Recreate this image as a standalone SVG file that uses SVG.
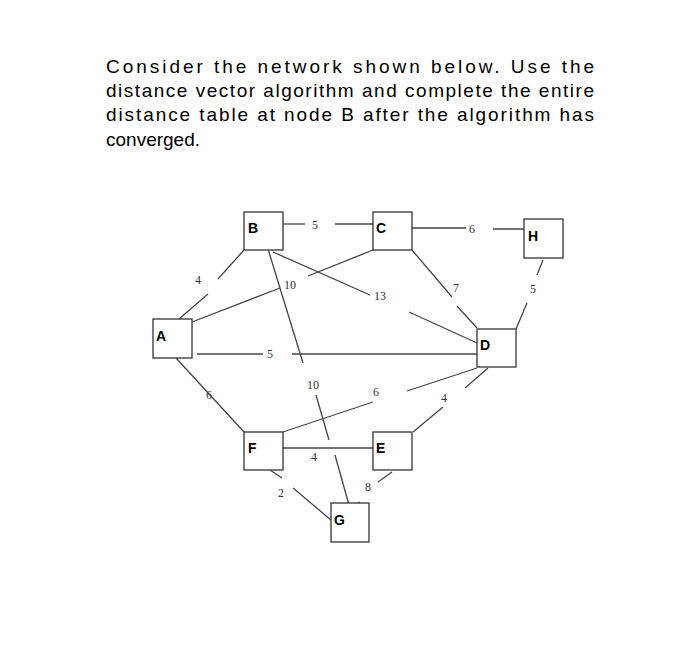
<svg xmlns="http://www.w3.org/2000/svg" width="700" height="653" viewBox="0 0 700 653">
<style>
.q{font-family:"Liberation Sans",Arial,sans-serif;font-size:19px;fill:#000}
.n rect{fill:#fff;stroke:#333;stroke-width:1.3}
.n text{font-family:"Liberation Sans",Arial,sans-serif;font-weight:bold;font-size:14px;fill:#000}
.c line{stroke:#444;stroke-width:1.3}
.w{font-family:"Liberation Serif","Times New Roman",serif;font-size:12px;fill:#333}
</style>
<rect width="700" height="653" fill="#fff"/>
<text class="q" x="106" y="73" textLength="488" lengthAdjust="spacing">Consider the network shown below. Use the</text>
<text class="q" x="106" y="97" textLength="488" lengthAdjust="spacing">distance vector algorithm and complete the entire</text>
<text class="q" x="106" y="121" textLength="488" lengthAdjust="spacing">distance table at node B after the algorithm has</text>
<text class="q" x="106" y="146">converged.</text>
<g class="c">
<line x1="283" y1="224" x2="305" y2="224"/><line x1="335" y1="224" x2="373" y2="224"/>
<line x1="412" y1="228" x2="466" y2="228"/><line x1="493" y1="229" x2="527" y2="229"/>
<line x1="244" y1="250" x2="218" y2="279"/><line x1="208" y1="294" x2="179" y2="319"/>
<line x1="373" y1="250" x2="308" y2="276"/><line x1="280" y1="288" x2="192" y2="322"/>
<line x1="268" y1="249" x2="303" y2="363"/><line x1="316" y1="395" x2="329" y2="440"/><line x1="335" y1="455" x2="349" y2="505"/>
<line x1="273" y1="252" x2="370" y2="295"/><line x1="409" y1="312" x2="477" y2="343"/>
<line x1="412" y1="250" x2="452" y2="297"/><line x1="457" y1="306" x2="477" y2="328"/>
<line x1="543" y1="260" x2="537" y2="275"/><line x1="527" y1="303" x2="516" y2="329"/>
<line x1="197" y1="354" x2="263" y2="354"/><line x1="292" y1="354" x2="477" y2="354"/>
<line x1="176" y1="358" x2="244" y2="432"/>
<line x1="283" y1="432" x2="373" y2="402"/><line x1="407" y1="391" x2="477" y2="368"/>
<line x1="413" y1="432" x2="443" y2="407"/><line x1="465" y1="388" x2="488" y2="368"/>
<line x1="283" y1="448" x2="373" y2="448"/>
<line x1="270" y1="470" x2="282" y2="478"/><line x1="293" y1="488" x2="331" y2="520"/>
<line x1="392" y1="472" x2="378" y2="482"/><line x1="360" y1="502" x2="350" y2="507"/>
</g>
<g>
<text class="w" x="312" y="229">5</text>
<text class="w" x="469" y="233">6</text>
<text class="w" x="195" y="284">4</text>
<text class="w" x="284" y="289">10</text>
<text class="w" x="374" y="300">13</text>
<text class="w" x="453" y="292">7</text>
<text class="w" x="530" y="293">5</text>
<text class="w" x="267" y="358">5</text>
<text class="w" x="307" y="389">10</text>
<text class="w" x="206" y="399">6</text>
<text class="w" x="373" y="396">6</text>
<text class="w" x="441" y="402">4</text>
<text class="w" x="311" y="461">4</text>
<text class="w" x="278" y="497">2</text>
<text class="w" x="365" y="491">8</text>
</g>
<g id="B" class="n"><rect x="244" y="212" width="39" height="38"/><text x="248" y="233">B</text></g>
<g id="C" class="n"><rect x="373" y="212" width="39" height="38"/><text x="376" y="233">C</text></g>
<g id="H" class="n"><rect x="524" y="219" width="39" height="39"/><text x="528" y="241">H</text></g>
<g id="A" class="n"><rect x="153" y="319" width="39" height="39"/><text x="156" y="341">A</text></g>
<g id="D" class="n"><rect x="477" y="329" width="39" height="38"/><text x="480" y="350">D</text></g>
<g id="F" class="n"><rect x="244" y="432" width="39" height="38"/><text x="248" y="453">F</text></g>
<g id="E" class="n"><rect x="373" y="432" width="39" height="38"/><text x="376" y="453">E</text></g>
<g id="G" class="n"><rect x="331" y="503" width="38" height="39"/><text x="334" y="525">G</text></g>
</svg>
